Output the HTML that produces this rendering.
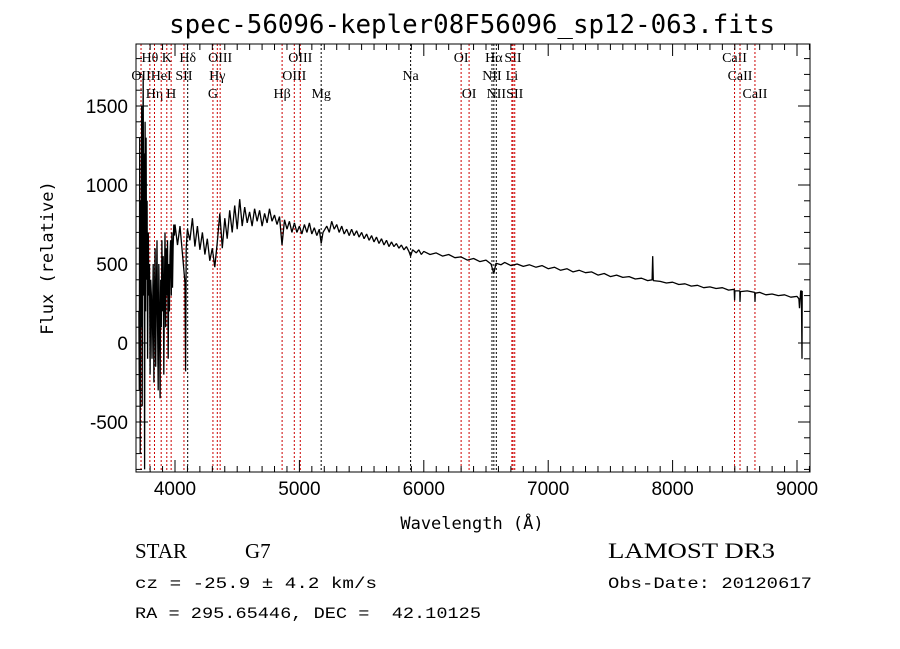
<!DOCTYPE html>
<html><head><meta charset="utf-8"><style>
body{margin:0;background:#fff;}
svg{display:block;}
</style></head><body>
<svg id="chart" width="900" height="649" xmlns="http://www.w3.org/2000/svg">
<rect width="900" height="649" fill="#fff"/>
<text x="472" y="33" text-anchor="middle" font-family="DejaVu Sans Mono, monospace" font-size="25.8">spec-56096-kepler08F56096_sp12-063.fits</text>
<g id="lines"></g>
<g id="axes"></g>
<path id="spec" fill="none" stroke="#000" stroke-width="1.3" stroke-linejoin="bevel"/>
<text x="472" y="529" text-anchor="middle" font-family="DejaVu Sans Mono, monospace" font-size="17">Wavelength (Å)</text>
<text transform="translate(53,258) rotate(-90)" text-anchor="middle" font-family="DejaVu Sans Mono, monospace" font-size="17">Flux (relative)</text>
<text x="135" y="558" font-family="Liberation Serif, serif" font-size="21">STAR</text>
<text x="245" y="558" font-family="Liberation Serif, serif" font-size="21">G7</text>
<text x="608" y="558" font-family="Liberation Serif, serif" font-size="22" textLength="167" lengthAdjust="spacingAndGlyphs">LAMOST DR3</text>
<text x="135" y="588" font-family="Liberation Mono, monospace" font-size="16" textLength="242" lengthAdjust="spacingAndGlyphs">cz = -25.9 ± 4.2 km/s</text>
<text x="608" y="588" font-family="Liberation Mono, monospace" font-size="16" textLength="204" lengthAdjust="spacingAndGlyphs">Obs-Date: 20120617</text>
<text x="135" y="618" font-family="Liberation Mono, monospace" font-size="16" xml:space="preserve" textLength="346" lengthAdjust="spacingAndGlyphs">RA = 295.65446, DEC =  42.10125</text>
</svg>
<script>
const wavelengths=[3710,3713,3716,3720,3724,3728,3732,3736,3740,3744,3748,3752,3756,3760,3764,3768,3772,3776,3780,3785,3790,3795,3800,3805,3810,3815,3820,3825,3830,3835,3840,3845,3850,3855,3860,3865,3870,3875,3880,3885,3890,3895,3900,3905,3910,3915,3920,3925,3930,3935,3940,3945,3950,3955,3960,3965,3970,3975,3980,3985,3990,3995,
4000,4020,4040,4060,4080,4085,4090,4100,4120,4140,4160,4180,4200,4220,4240,4260,4280,4300,4320,4340,4360,4380,4400,4420,4440,4460,4480,4500,4520,4540,4560,4580,4600,4620,4640,4660,4680,4700,4720,4740,4760,4780,4800,4820,4840,4860,4880,4900,4920,4940,4960,4980,5000,5020,5040,5060,5080,5100,5120,5140,5160,5175,5190,5220,5240,5260,5280,5300,5320,5340,5360,5380,5400,5420,5440,5460,5480,5500,5520,5540,5560,5580,5600,5620,5640,5660,5680,5700,5720,5740,5760,5780,5800,5820,5840,5860,5880,5894,5910,5940,5960,5980,6000,
6050,6100,6150,6200,6250,6300,6350,6400,6450,6500,6540,6563,6580,6620,6650,6700,6750,6800,6850,6900,6950,7000,7050,7100,7150,7200,7250,7300,7350,7400,7450,7500,7550,7600,7650,7700,7750,7800,7835,7840,7845,7900,7950,8000,8050,8100,8150,8200,8250,8300,8350,8400,8450,8495,8498,8501,8540,8542,8545,8600,8660,8662,8665,8700,8750,8800,8850,8900,8950,9000,9015,9020,9030,9035,9040,9042];
const fluxes=[200,-300,1300,-700,900,100,1500,-400,1000,1700,300,1200,-800,1400,200,1300,400,900,-100,700,300,500,-200,400,300,-100,200,500,-250,300,600,-150,250,650,100,-300,500,200,-350,400,100,650,200,550,-200,300,700,100,600,300,650,-100,500,200,550,650,300,700,350,600,750,680,
750,620,740,560,380,-180,600,720,650,790,610,740,590,700,560,660,520,600,480,640,820,600,790,660,840,700,870,720,910,740,860,760,830,740,850,770,840,740,820,760,850,770,810,750,800,620,780,720,770,700,760,700,740,690,750,700,760,690,730,680,720,630,700,740,700,770,720,750,700,740,690,720,680,720,680,710,670,700,660,690,650,680,640,670,630,660,620,650,610,640,610,630,600,620,590,610,580,550,590,570,590,560,580,
560,570,550,560,540,545,525,535,515,525,500,440,505,495,510,490,500,485,495,480,490,470,480,460,470,450,460,445,450,430,440,420,430,415,420,405,410,395,400,550,395,390,380,385,370,375,360,365,350,355,345,350,335,340,270,330,330,260,325,330,320,260,315,320,305,310,300,305,290,295,280,220,330,330,-100,330];
const lineWaves=[3727,3798,3835,3889,3934,3969,4072,4102,4305,4340,4363,4861,4959,5007,5175,5894,6300,6364,6548,6563,6583,6708,6717,6731,8498,8542,8662];
const lineBlack=[0,0,0,0,0,0,0,1,0,0,0,0,0,0,1,1,0,0,1,1,1,0,0,0,0,0,0];
const labelTexts=["OII","Hθ","Hη","HeI","K","H","SII","Hδ","G","Hγ","OIII","Hβ","OIII","OIII","Mg","Na","OI","OI","NII","Hα","NII","Li","SII","SII","CaII","CaII","CaII"];
const labelRows=[1,0,2,1,0,2,1,0,2,1,0,2,1,0,2,1,0,2,1,0,2,1,0,2,0,1,2];
const xTicks=[4000,5000,6000,7000,8000,9000];
const yTicks=[-500,0,500,1000,1500];
const L=136,R=810,T=44,B=472;
const xScale=w=>175+(w-4000)*0.1244;
const yScale=f=>343-f*79/500;
const NS="http://www.w3.org/2000/svg";
function mk(tag,attrs,parent){const e=document.createElementNS(NS,tag);for(const k in attrs)e.setAttribute(k,attrs[k]);parent.appendChild(e);return e;}
const lg=document.getElementById('lines');
lineWaves.forEach((w,i)=>{
 const x=xScale(w);
 const l=mk('line',{x1:x,x2:x,y1:T,y2:B,stroke:lineBlack[i]?'#000':'#c00','stroke-width':1,'stroke-dasharray':'2,2'},lg);
 
 
 const t=mk('text',{x:x,y:T+18+labelRows[i]*18,'text-anchor':'middle','font-family':'Liberation Serif, serif','font-size':14},lg);
 t.textContent=labelTexts[i];
 
 
});
const ax=document.getElementById('axes');
const fr=mk('rect',{x:L,y:T,width:R-L,height:B-T,fill:'none',stroke:'#000','stroke-width':1},ax);


for(let w=3800;w<=9100;w+=100){const x=xScale(w);const big=w%1000===0;const len=big?12:6;
 mk('line',{x1:x,x2:x,y1:B,y2:B-len,stroke:'#000'},ax);mk('line',{x1:x,x2:x,y1:T,y2:T+len,stroke:'#000'},ax);}
xTicks.forEach(w=>{const t=mk('text',{x:xScale(w),y:B+23,'text-anchor':'middle','font-family':'Liberation Sans, sans-serif','font-size':19},ax);t.textContent=w;
 
 });
for(let f=-800;f<=1800;f+=100){const y=yScale(f);const big=f%500===0;const len=big?12:6;
 mk('line',{x1:L,x2:L+len,y1:y,y2:y,stroke:'#000'},ax);mk('line',{x1:R,x2:R-len,y1:y,y2:y,stroke:'#000'},ax);}
yTicks.forEach(f=>{const t=mk('text',{x:128,y:yScale(f)+7,'text-anchor':'end','font-family':'Liberation Sans, sans-serif','font-size':19},ax);t.textContent=f;
 
 });
let d='';
wavelengths.forEach((w,i)=>{const y=Math.max(T,Math.min(B,yScale(fluxes[i])));d+=(i?'L':'M')+xScale(w).toFixed(1)+','+y.toFixed(1);});
document.getElementById('spec').setAttribute('d',d);
</script>
</body></html>
